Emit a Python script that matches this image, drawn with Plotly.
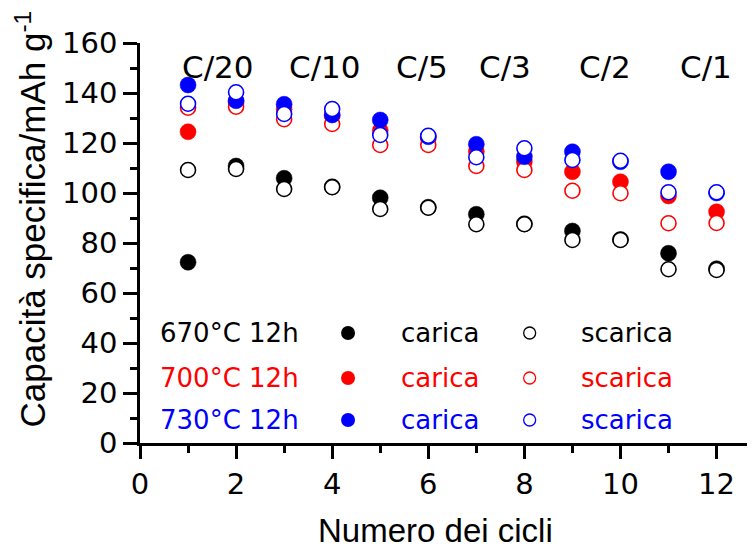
import plotly.graph_objects as go

cycles = [1, 2, 3, 4, 5, 6, 7, 8, 9, 10, 11, 12]

c670_charge = [72.3, 110.8, 105.9, 102.5, 98.1, 94.3, 91.5, 87.7, 84.8, 81.4, 75.9, 69.7]
c670_discharge = [109.2, 109.6, 101.6, 102.3, 93.6, 94.1, 87.5, 87.5, 81.2, 81.2, 69.5, 69.2]
c700_charge = [124.5, 136.5, 133.5, 131.0, 125.0, 122.0, 116.5, 112.5, 108.5, 104.5, 98.8, 92.5]
c700_discharge = [134.1, 134.5, 129.5, 127.6, 119.2, 119.2, 110.8, 109.2, 100.9, 99.9, 87.9, 88.0]
c730_charge = [143.2, 136.9, 135.5, 131.2, 129.2, 122.5, 119.5, 114.5, 116.5, 112.5, 108.5, 100.0]
c730_discharge = [135.7, 140.3, 131.6, 133.6, 123.2, 122.9, 114.3, 117.9, 113.2, 112.9, 100.3, 100.3]

rate_labels = ["C/20", "C/10", "C/5", "C/3", "C/2", "C/1"]
rate_x = [1.63, 3.84, 5.86, 7.59, 9.67, 11.78]
rate_y = 150.4

series_names = ["670°C 12h", "700°C 12h", "730°C 12h"]
series_colors = ["black", "red", "blue"]
legend_rows_y = [44, 26, 9.2]

TXT_FONT = "DejaVu Sans"
AX_FONT = "Liberation Sans, Arial"

fig = go.Figure()

data = [(c670_charge, c670_discharge), (c700_charge, c700_discharge), (c730_charge, c730_discharge)]
for (ch, dis), col, name in zip(data, series_colors, series_names):
    fig.add_trace(go.Scatter(x=cycles, y=ch, mode="markers", name=name + " carica",
                             marker=dict(symbol="circle", size=16, color=col,
                                         line=dict(width=0.5, color=col)),
                             showlegend=False, cliponaxis=False))
    fig.add_trace(go.Scatter(x=cycles, y=dis, mode="markers", name=name + " scarica",
                             marker=dict(symbol="circle", size=15, color="white",
                                         line=dict(width=1.6, color=col)),
                             showlegend=False, cliponaxis=False))

# custom legend markers
fig.add_trace(go.Scatter(x=[4.33] * 3, y=legend_rows_y, mode="markers",
                         marker=dict(symbol="circle", size=14, color=series_colors,
                                     line=dict(width=0)),
                         showlegend=False, hoverinfo="skip"))
fig.add_trace(go.Scatter(x=[8.11] * 3, y=legend_rows_y, mode="markers",
                         marker=dict(symbol="circle", size=12, color="white",
                                     line=dict(width=1.3, color=series_colors)),
                         showlegend=False, hoverinfo="skip"))

annotations = []
for lab, xv in zip(rate_labels, rate_x):
    annotations.append(dict(x=xv, y=rate_y, xref="x", yref="y", text=lab, showarrow=False,
                            xanchor="center", yanchor="middle",
                            font=dict(family=TXT_FONT, size=31, color="black")))
for name, col, yv in zip(series_names, series_colors, legend_rows_y):
    annotations.append(dict(x=0.38, y=yv, xref="x", yref="y", text=name, showarrow=False,
                            xanchor="left", yanchor="middle",
                            font=dict(family=TXT_FONT, size=26, color=col)))
    annotations.append(dict(x=6.24, y=yv, xref="x", yref="y", text="carica", showarrow=False,
                            xanchor="center", yanchor="middle",
                            font=dict(family=TXT_FONT, size=26, color=col)))
    annotations.append(dict(x=10.13, y=yv, xref="x", yref="y", text="scarica", showarrow=False,
                            xanchor="center", yanchor="middle",
                            font=dict(family=TXT_FONT, size=26, color=col)))

# axis titles
annotations.append(dict(x=-0.178, y=0.56, xref="paper", yref="paper",
                        text="Capacità specifica/mAh g<sup>-1</sup>", textangle=-90,
                        showarrow=False, xanchor="center", yanchor="middle",
                        font=dict(family=AX_FONT, size=35, color="black")))
annotations.append(dict(x=(435 - 140) / 615, y=-0.218, xref="paper", yref="paper",
                        text="Numero dei cicli", showarrow=False,
                        xanchor="center", yanchor="middle",
                        font=dict(family=AX_FONT, size=33, color="black")))

# page body has an 8px margin, so the figure is sized/offset to compensate
fig.update_layout(
    width=747, height=540,
    margin=dict(l=132, r=0, t=35, b=105),
    paper_bgcolor="white", plot_bgcolor="white",
    annotations=annotations,
    showlegend=False,
)

fig.update_xaxes(
    range=[0, 12.8], showgrid=False, zeroline=False,
    showline=True, linecolor="black", linewidth=2.5,
    tickmode="array", tickvals=[0, 2, 4, 6, 8, 10, 12],
    ticks="outside", ticklen=13, tickwidth=2.5, tickcolor="black",
    minor=dict(tickvals=[1, 3, 5, 7, 9, 11], ticks="outside", ticklen=7,
               tickwidth=2.5, tickcolor="black"),
    tickfont=dict(family=TXT_FONT, size=29, color="black"),
)
fig.update_yaxes(
    range=[0, 160], showgrid=False, zeroline=False,
    showline=True, linecolor="black", linewidth=2.5,
    tickmode="array", tickvals=[0, 20, 40, 60, 80, 100, 120, 140, 160],
    ticks="outside", ticklen=14, tickwidth=2.5, tickcolor="black",
    minor=dict(tickvals=[10, 30, 50, 70, 90, 110, 130, 150], ticks="outside",
               ticklen=7, tickwidth=2.5, tickcolor="black"),
    tickfont=dict(family=TXT_FONT, size=29, color="black"),
)

fig.write_html("out.html")
